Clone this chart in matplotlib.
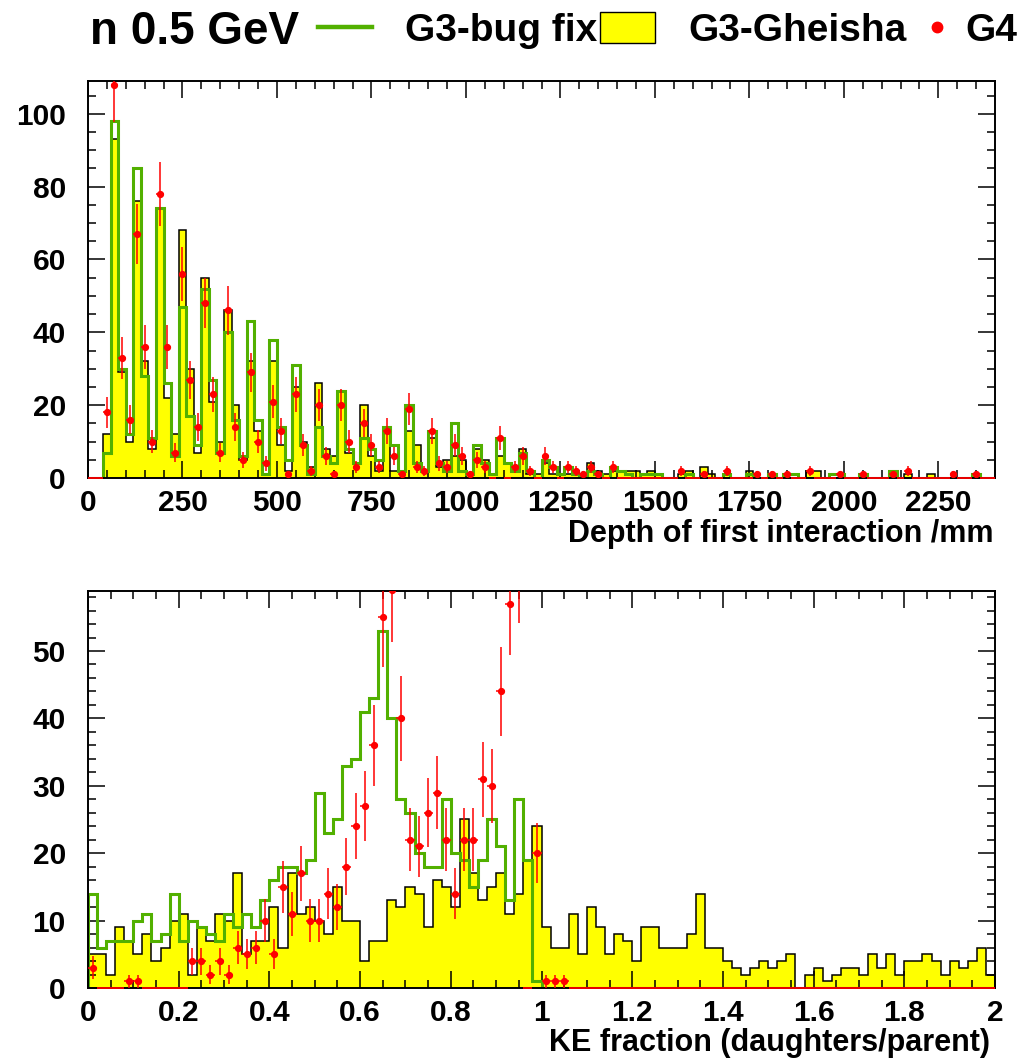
import numpy as np
import matplotlib
matplotlib.use("Agg")
import matplotlib.pyplot as plt
from matplotlib.lines import Line2D
from matplotlib.patches import Rectangle
from matplotlib.ticker import MultipleLocator, FuncFormatter

plt.rcParams['font.family'] = ['Liberation Sans', 'DejaVu Sans']
plt.rcParams['font.weight'] = 'bold'

# ---------------- Depth of first interaction (20 mm bins, 0..2400 mm)
depth_edges = np.arange(0, 2401, 20)

depth_g3_gheisha = [
    0, 0, 12, 93, 29, 10, 76, 32, 8, 74,
    22, 12, 68, 30, 7, 55, 21, 10, 46, 20,
    5, 32, 13, 1, 32, 9, 2, 25, 10, 3,
    26, 8, 6, 24, 7, 4, 20, 6, 2, 14,
    2, 2, 13, 9, 2, 11, 3, 5, 6, 5,
    1, 8, 5, 1, 6, 4, 2, 8, 1, 1,
    4, 1, 1, 1, 1, 1, 4, 2, 1, 2,
    2, 2, 2, 1, 2, 1, 0, 0, 1, 2,
    0, 3, 1, 0, 1, 0, 0, 2, 0, 0,
    0, 0, 0, 0, 0, 2, 2, 0, 0, 0,
    0, 0, 0, 0, 0, 0, 1, 0, 1, 0,
    0, 1, 0, 0, 0, 0, 0, 0, 0, 0,
]

depth_g3_bugfix = [
    0, 0, 7, 98, 30, 12, 85, 28, 11, 74,
    26, 6, 47, 17, 9, 52, 27, 7, 40, 16,
    6, 43, 16, 1, 38, 14, 5, 31, 9, 1,
    14, 6, 4, 24, 8, 4, 11, 8, 5, 14,
    9, 2, 20, 4, 2, 13, 4, 2, 15, 2,
    1, 9, 4, 1, 11, 4, 2, 7, 2, 0,
    5, 3, 1, 3, 1, 0, 2, 1, 0, 3,
    2, 1, 0, 1, 1, 1, 0, 0, 0, 1,
    0, 0, 0, 0, 1, 0, 0, 1, 0, 0,
    1, 0, 1, 1, 0, 0, 0, 0, 1, 1,
    0, 0, 1, 0, 0, 0, 2, 0, 0, 0,
    0, 0, 0, 0, 0, 0, 0, 1, 0, 0,
]

depth_g4 = [
    0, 0, 18, 108, 33, 16, 67, 36, 10, 78,
    36, 7, 56, 27, 14, 48, 23, 7, 46, 14,
    5, 29, 10, 4, 21, 13, 1, 23, 9, 2,
    20, 6, 1, 20, 10, 3, 15, 9, 3, 13,
    6, 1, 19, 3, 2, 13, 4, 3, 9, 6,
    1, 5, 3, 0, 11, 0, 3, 6, 2, 0,
    6, 3, 0, 3, 2, 1, 3, 1, 0, 3,
    0, 0, 0, 0, 0, 0, 0, 0, 2, 0,
    0, 1, 0, 0, 2, 0, 0, 0, 1, 0,
    1, 0, 1, 0, 0, 2, 0, 0, 0, 1,
    0, 0, 1, 0, 0, 0, 1, 0, 2, 0,
    0, 0, 0, 0, 1, 0, 0, 1, 0, 0,
]

# ---------------- KE fraction daughters/parent (0.02 bins, 0..2)
ke_edges = np.linspace(0.0, 2.0, 101)

ke_g3_gheisha = [
    5, 5, 2, 9, 7, 5, 8, 4, 6, 10,
    11, 2, 9, 7, 11, 10, 17, 5, 7, 7,
    12, 6, 17, 11, 12, 10, 8, 15, 10, 10,
    4, 7, 7, 13, 12, 15, 14, 9, 16, 15,
    12, 25, 17, 13, 15, 17, 11, 14, 19, 24,
    9, 6, 6, 11, 5, 12, 9, 5, 8, 7,
    4, 9, 9, 6, 6, 6, 8, 14, 6, 6,
    4, 3, 2, 3, 4, 3, 4, 5, 0, 2,
    3, 1, 2, 3, 3, 2, 5, 3, 5, 2,
    4, 4, 5, 4, 2, 4, 3, 4, 6, 2,
]

ke_g3_bugfix = [
    14, 6, 7, 7, 7, 10, 11, 7, 8, 14,
    7, 10, 9, 8, 7, 11, 9, 11, 9, 13,
    16, 18, 18, 17, 19, 29, 23, 25, 33, 34,
    41, 43, 53, 40, 28, 26, 20, 18, 18, 28,
    20, 19, 15, 19, 25, 21, 13, 28, 19, 1,
    0, 0, 0, 0, 0, 0, 0, 0, 0, 0,
    0, 0, 0, 0, 0, 0, 0, 0, 0, 0,
    0, 0, 0, 0, 0, 0, 0, 0, 0, 0,
    0, 0, 0, 0, 0, 0, 0, 0, 0, 0,
    0, 0, 0, 0, 0, 0, 0, 0, 0, 0,
]

ke_g4 = [
    3, 0, 0, 0, 1, 1, 0, 0, 0, 0,
    0, 4, 4, 2, 4, 2, 6, 5, 6, 10,
    5, 15, 11, 17, 10, 10, 14, 12, 18, 24,
    27, 36, 55, 59, 40, 22, 21, 26, 29, 22,
    14, 22, 22, 31, 30, 44, 57, 62, 0, 20,
    1, 1, 1, 0, 0, 0, 0, 0, 0, 0,
    0, 0, 0, 0, 0, 0, 0, 0, 0, 0,
    0, 0, 0, 0, 0, 0, 0, 0, 0, 0,
    0, 0, 0, 0, 0, 0, 0, 0, 0, 0,
    0, 0, 0, 0, 0, 0, 0, 0, 0, 0,
]

YELLOW = '#ffff00'
GREEN = '#52b000'
RED = '#ff0000'

W, H = 1029, 1060
fig = plt.figure(figsize=(W / 100, H / 100), dpi=100)


def fx(px):
    return px / W


def fy(py):
    return 1 - py / H


def draw_panel(ax, edges, gheisha, bugfix, g4):
    gheisha = np.asarray(gheisha, float)
    bugfix = np.asarray(bugfix, float)
    g4 = np.asarray(g4, float)
    ax.stairs(gheisha, edges, fill=True, color=YELLOW, zorder=1)
    ax.stairs(gheisha, edges, color='black', lw=1.1, baseline=0, zorder=2)
    ax.stairs(bugfix, edges, color=GREEN, lw=2.2, baseline=0, zorder=3)

    centers = 0.5 * (edges[:-1] + edges[1:])
    half = 0.5 * np.diff(edges)
    nz = g4 > 0
    ax.errorbar(centers[nz], g4[nz], xerr=half[nz], yerr=np.sqrt(g4[nz]),
                fmt='o', color=RED, ms=4.2, elinewidth=1.1, capsize=0,
                zorder=5)
    z = ~nz
    ax.hlines(np.zeros(z.sum()), edges[:-1][z], edges[1:][z], color=RED,
              lw=1.3, zorder=6, clip_on=False)


def style_axes(ax, xmaj, xmin, ymaj, ymin):
    for s in ax.spines.values():
        s.set_linewidth(1.4)
        s.set_zorder(4)
    ax.xaxis.set_major_locator(MultipleLocator(xmaj))
    ax.xaxis.set_minor_locator(MultipleLocator(xmin))
    ax.yaxis.set_major_locator(MultipleLocator(ymaj))
    ax.yaxis.set_minor_locator(MultipleLocator(ymin))
    ax.tick_params(which='both', direction='in', top=True, right=True,
                   width=1.1, labelsize=21.5)
    ax.tick_params(which='major', length=12)
    ax.tick_params(which='minor', length=6)
    ax.tick_params(axis='x', pad=8)
    ax.tick_params(axis='y', pad=16)
    for lab in ax.get_xticklabels() + ax.get_yticklabels():
        lab.set_fontweight('bold')


# ---------------- upper panel
ax1 = fig.add_axes([fx(88), fy(478), fx(995) - fx(88), fy(81) - fy(478)])
draw_panel(ax1, depth_edges, depth_g3_gheisha, depth_g3_bugfix, depth_g4)
ax1.set_xlim(0, 2400)
ax1.set_ylim(0, 109)
style_axes(ax1, 250, 50, 20, 5)
fig.text(fx(993), fy(542), 'Depth of first interaction /mm', ha='right',
         va='baseline', fontsize=22, fontweight='bold')

# ---------------- lower panel
ax2 = fig.add_axes([fx(88), fy(988), fx(995) - fx(88), fy(591) - fy(988)])
draw_panel(ax2, ke_edges, ke_g3_gheisha, ke_g3_bugfix, ke_g4)
ax2.set_xlim(0, 2)
ax2.set_ylim(0, 58.9)
style_axes(ax2, 0.2, 0.05, 10, 2)
ax2.xaxis.set_major_formatter(FuncFormatter(lambda v, p: f"{round(v, 2):g}"))
fig.text(fx(990), fy(1051), 'KE fraction (daughters/parent)', ha='right',
         va='baseline', fontsize=22, fontweight='bold')

# ---------------- header with legend
fig.text(fx(90), fy(44), 'n 0.5 GeV', ha='left', va='baseline',
         fontsize=33, fontweight='bold')
fig.add_artist(Line2D([fx(318), fx(372)], [fy(27), fy(27)], color=GREEN,
                      lw=3.2, transform=fig.transFigure))
fig.text(fx(405), fy(41), 'G3-bug fix', ha='left', va='baseline',
         fontsize=28, fontweight='bold')
fig.add_artist(Rectangle((fx(600), fy(43)), fx(655) - fx(600), fy(12) - fy(43),
                         facecolor=YELLOW, edgecolor='black', lw=1.0,
                         transform=fig.transFigure))
fig.text(fx(688), fy(41), 'G3-Gheisha', ha='left', va='baseline',
         fontsize=28, fontweight='bold')
fig.add_artist(Line2D([fx(937)], [fy(27)], marker='o', ms=7.5, color=RED,
                      lw=0, transform=fig.transFigure))
fig.text(fx(965), fy(41), 'G4', ha='left', va='baseline',
         fontsize=28, fontweight='bold')

fig.savefig('out.png', dpi=100)
